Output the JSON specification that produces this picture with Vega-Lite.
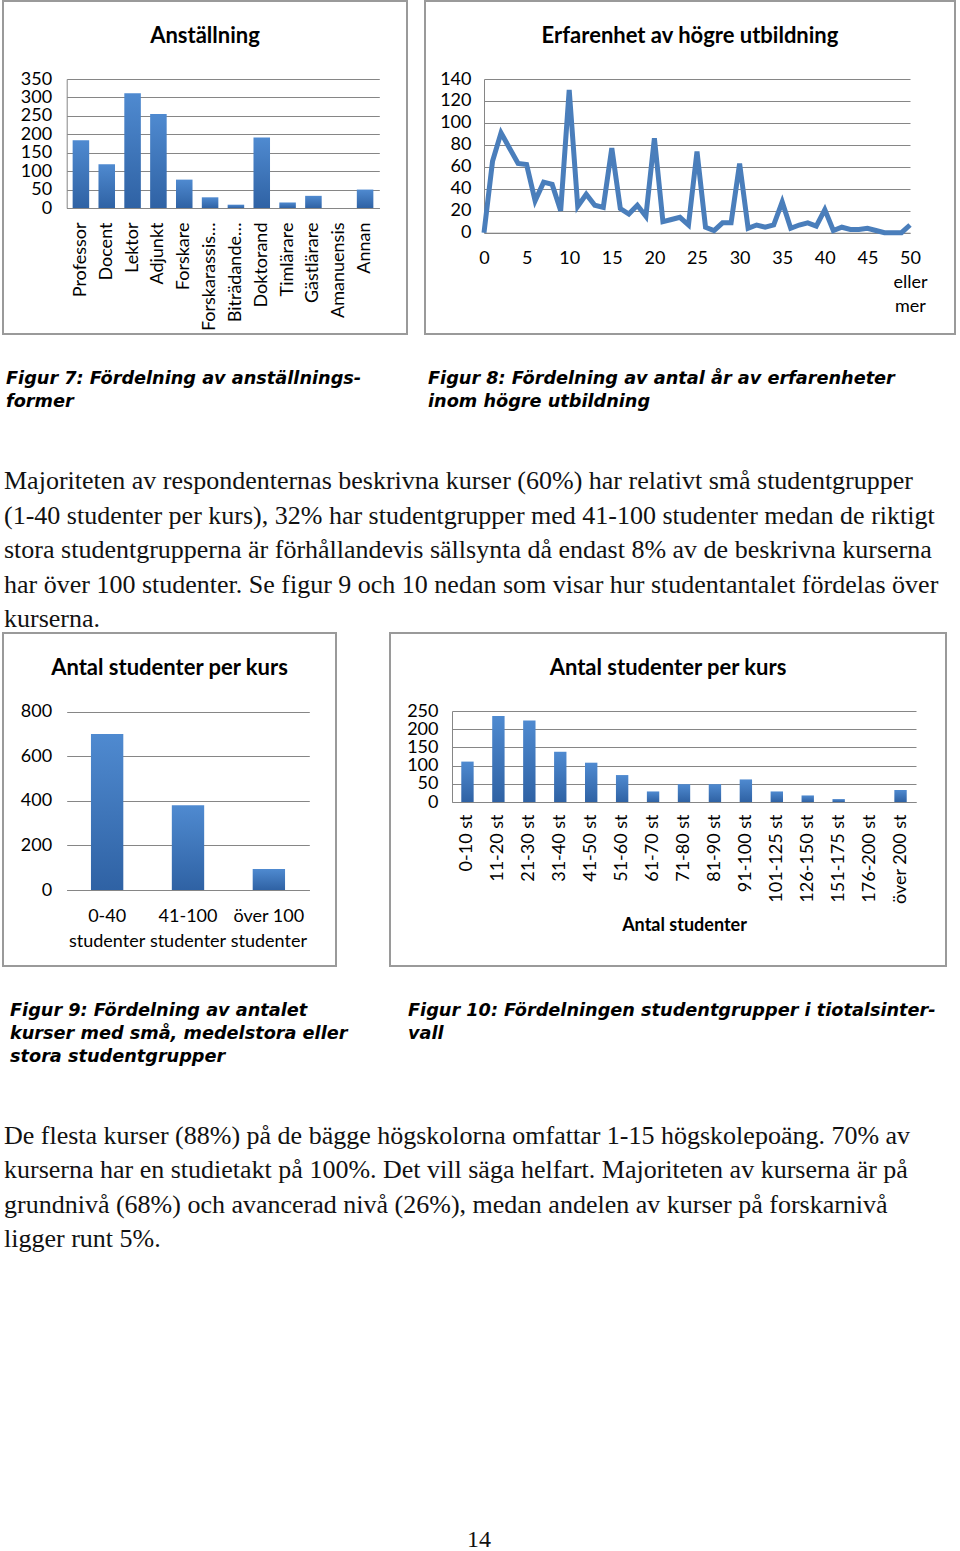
{
  "$schema": "https://vega.github.io/schema/vega-lite/v6.json",
  "background": "white",
  "padding": {"left": 2, "top": 0, "right": 0, "bottom": 0},
  "spacing": 0,
  "config": {
    "view": {"stroke": "#9a9a9a", "strokeWidth": 2},
    "font": "Lato",
    "axis": {
      "labelFont": "Lato", "labelFontSize": 18, "labelColor": "#000",
      "gridColor": "#868686", "gridWidth": 1, "domainColor": "#868686", "domainWidth": 1,
      "ticks": false, "tickSize": 0, "titleFont": "Lato", "titleFontSize": 18, "titleFontWeight": "bold", "titleColor": "#000",
      "labelFlush": false, "labelOverlap": false
    }
  },
  "vconcat": [
    {
      "hconcat": [
        {
          "width": 404, "height": 333,
          "title": {"text": "Anställning", "orient": "bottom", "anchor": "middle", "frame": "group", "offset": -308, "font": "Lato", "fontSize": 22, "fontWeight": "bold", "color": "#000"},
          "data": {"values": [
            {"kategori": "Professor", "antal": 184},
            {"kategori": "Docent", "antal": 119},
            {"kategori": "Lektor", "antal": 311},
            {"kategori": "Adjunkt", "antal": 255},
            {"kategori": "Forskare", "antal": 77},
            {"kategori": "Forskarassis…", "antal": 29},
            {"kategori": "Biträdande…", "antal": 9},
            {"kategori": "Doktorand", "antal": 191},
            {"kategori": "Timlärare", "antal": 15},
            {"kategori": "Gästlärare", "antal": 33},
            {"kategori": "Amanuensis", "antal": 0},
            {"kategori": "Annan", "antal": 50}
          ]},
          "mark": {"type": "bar", "fill": {"gradient": "linear", "x1": 0, "y1": 0, "x2": 0, "y2": 1, "stops": [{"offset": 0, "color": "#4f8ad0"}, {"offset": 1, "color": "#2f62a4"}]}},
          "encoding": {
            "x": {"field": "kategori", "type": "nominal", "sort": null,
                  "scale": {"range": [63.7, 376.3], "paddingInner": 0.36, "paddingOuter": 0.23},
                  "axis": {"title": null, "labelAngle": -90, "offset": -126, "labelPadding": 14, "grid": false, "domain": true}},
            "y": {"field": "antal", "type": "quantitative",
                  "scale": {"domain": [0, 350], "range": [207, 78], "nice": false},
                  "axis": {"title": null, "values": [0, 50, 100, 150, 200, 250, 300, 350], "offset": -63.7, "labelPadding": 15, "grid": true, "domain": true}}
          }
        },
        {
          "width": 530, "height": 333,
          "title": {"text": "Erfarenhet av högre utbildning", "orient": "bottom", "anchor": "middle", "frame": "group", "offset": -308, "font": "Lato", "fontSize": 22, "fontWeight": "bold", "color": "#000"},
          "data": {"values": [
            {"ar": 0, "antal": 0}, {"ar": 1, "antal": 65}, {"ar": 2, "antal": 91}, {"ar": 3, "antal": 77}, {"ar": 4, "antal": 63},
            {"ar": 5, "antal": 62}, {"ar": 6, "antal": 29}, {"ar": 7, "antal": 46}, {"ar": 8, "antal": 44}, {"ar": 9, "antal": 20},
            {"ar": 10, "antal": 130}, {"ar": 11, "antal": 24}, {"ar": 12, "antal": 35}, {"ar": 13, "antal": 25}, {"ar": 14, "antal": 23},
            {"ar": 15, "antal": 77}, {"ar": 16, "antal": 22}, {"ar": 17, "antal": 17}, {"ar": 18, "antal": 25}, {"ar": 19, "antal": 15},
            {"ar": 20, "antal": 86}, {"ar": 21, "antal": 10}, {"ar": 22, "antal": 12}, {"ar": 23, "antal": 14}, {"ar": 24, "antal": 7},
            {"ar": 25, "antal": 74}, {"ar": 26, "antal": 5}, {"ar": 27, "antal": 2}, {"ar": 28, "antal": 9}, {"ar": 29, "antal": 9},
            {"ar": 30, "antal": 63}, {"ar": 31, "antal": 4}, {"ar": 32, "antal": 7}, {"ar": 33, "antal": 5}, {"ar": 34, "antal": 7},
            {"ar": 35, "antal": 28}, {"ar": 36, "antal": 4}, {"ar": 37, "antal": 7}, {"ar": 38, "antal": 9}, {"ar": 39, "antal": 6},
            {"ar": 40, "antal": 21}, {"ar": 41, "antal": 2}, {"ar": 42, "antal": 5}, {"ar": 43, "antal": 3}, {"ar": 44, "antal": 3},
            {"ar": 45, "antal": 4}, {"ar": 46, "antal": 2}, {"ar": 47, "antal": 0}, {"ar": 48, "antal": 0}, {"ar": 49, "antal": 0},
            {"ar": 50, "antal": 7}
          ]},
          "mark": {"type": "line", "color": "#4a7ebb", "strokeWidth": 5},
          "encoding": {
            "x": {"field": "ar", "type": "quantitative",
                  "scale": {"domain": [0, 50], "range": [59, 485], "nice": false, "zero": false},
                  "axis": {"title": null, "values": [0, 5, 10, 15, 20, 25, 30, 35, 40, 45, 50], "offset": -101.3, "labelPadding": 17, "grid": false, "domain": true, "labelAngle": 0,
                           "labelExpr": "datum.value == 50 ? ['50', 'eller', 'mer'] : datum.label", "labelLineHeight": 24}},
            "y": {"field": "antal", "type": "quantitative",
                  "scale": {"domain": [0, 140], "range": [231.7, 78], "nice": false},
                  "axis": {"title": null, "values": [0, 20, 40, 60, 80, 100, 120, 140], "offset": -59, "labelPadding": 13, "grid": true, "domain": true}}
          }
        }
      ],
      "spacing": 16
    },
    {
      "hconcat": [
        {
          "width": 405, "height": 100, "view": {"stroke": null},
          "data": {"values": [{}]},
          "mark": {"type": "text", "text": ""},
          "title": {"text": ["Figur 7: Fördelning av anställnings-", "former"], "orient": "bottom", "anchor": "start", "frame": "group", "offset": -65, "dx": 3,
                    "font": "DejaVu Sans", "fontSize": 17.7, "fontWeight": "bold", "fontStyle": "italic", "lineHeight": 23, "color": "#000"}
        },
        {
          "width": 525, "height": 100, "view": {"stroke": null},
          "data": {"values": [{}]},
          "mark": {"type": "text", "text": ""},
          "title": {"text": ["Figur 8: Fördelning av antal år av erfarenheter", "inom högre utbildning"], "orient": "bottom", "anchor": "start", "frame": "group", "offset": -65,
                    "font": "DejaVu Sans", "fontSize": 17.7, "fontWeight": "bold", "fontStyle": "italic", "lineHeight": 23, "color": "#000"}
        }
      ],
      "spacing": 20
    },
    {
      "width": 952, "height": 197, "view": {"stroke": null},
      "data": {"values": [{}]},
      "mark": {"type": "text", "text": ""},
      "title": {"text": [
        "Majoriteten av respondenternas beskrivna kurser (60%) har relativt små studentgrupper",
        "(1-40 studenter per kurs), 32% har studentgrupper med 41-100 studenter medan de riktigt",
        "stora studentgrupperna är förhållandevis sällsynta då endast 8% av de beskrivna kurserna",
        "har över 100 studenter. Se figur 9 och 10 nedan som visar hur studentantalet fördelas över",
        "kurserna."
      ], "orient": "bottom", "anchor": "start", "frame": "group", "offset": -164, "dx": 1,
        "font": "Liberation Serif", "fontSize": 26, "fontWeight": "normal", "lineHeight": 34.5, "color": "#111"}
    },
    {
      "hconcat": [
        {
          "width": 333, "height": 333,
          "title": {"text": "Antal studenter per kurs", "orient": "bottom", "anchor": "middle", "frame": "group", "offset": -308, "font": "Lato", "fontSize": 22, "fontWeight": "bold", "color": "#000"},
          "data": {"values": [
            {"grupp": "0-40 studenter", "antal": 700},
            {"grupp": "41-100 studenter", "antal": 380},
            {"grupp": "över 100 studenter", "antal": 94}
          ]},
          "mark": {"type": "bar", "fill": {"gradient": "linear", "x1": 0, "y1": 0, "x2": 0, "y2": 1, "stops": [{"offset": 0, "color": "#4f8ad0"}, {"offset": 1, "color": "#2f62a4"}]}},
          "encoding": {
            "x": {"field": "grupp", "type": "nominal", "sort": null,
                  "scale": {"range": [63.7, 306.3], "paddingInner": 0.6, "paddingOuter": 0.3},
                  "axis": {"title": null, "labelAngle": 0, "offset": -76, "labelPadding": 17, "grid": false, "domain": true, "labelLineHeight": 25,
                           "labelExpr": "[substring(datum.label, 0, lastindexof(datum.label, ' ')), substring(datum.label, lastindexof(datum.label, ' ') + 1)]"}},
            "y": {"field": "antal", "type": "quantitative",
                  "scale": {"domain": [0, 800], "range": [257, 78.7], "nice": false},
                  "axis": {"title": null, "values": [0, 200, 400, 600, 800], "offset": -63.7, "labelPadding": 15, "grid": true, "domain": false}}
          }
        },
        {
          "width": 556, "height": 333,
          "title": {"text": "Antal studenter per kurs", "orient": "bottom", "anchor": "middle", "frame": "group", "offset": -308, "font": "Lato", "fontSize": 22, "fontWeight": "bold", "color": "#000"},
          "data": {"values": [
            {"intervall": "0-10 st", "antal": 111},
            {"intervall": "11-20 st", "antal": 236},
            {"intervall": "21-30 st", "antal": 224},
            {"intervall": "31-40 st", "antal": 138},
            {"intervall": "41-50 st", "antal": 108},
            {"intervall": "51-60 st", "antal": 74},
            {"intervall": "61-70 st", "antal": 29},
            {"intervall": "71-80 st", "antal": 49},
            {"intervall": "81-90 st", "antal": 49},
            {"intervall": "91-100 st", "antal": 62},
            {"intervall": "101-125 st", "antal": 29},
            {"intervall": "126-150 st", "antal": 18},
            {"intervall": "151-175 st", "antal": 8},
            {"intervall": "176-200 st", "antal": 0},
            {"intervall": "över 200 st", "antal": 33}
          ]},
          "mark": {"type": "bar", "fill": {"gradient": "linear", "x1": 0, "y1": 0, "x2": 0, "y2": 1, "stops": [{"offset": 0, "color": "#4f8ad0"}, {"offset": 1, "color": "#2f62a4"}]}},
          "encoding": {
            "x": {"field": "intervall", "type": "nominal", "sort": null,
                  "scale": {"range": [62, 526], "paddingInner": 0.6, "paddingOuter": 0.3},
                  "axis": {"title": "Antal studenter", "titlePadding": 13, "labelAngle": -90, "offset": -164, "labelPadding": 12, "grid": false, "domain": true}},
            "y": {"field": "antal", "type": "quantitative",
                  "scale": {"domain": [0, 250], "range": [169, 78], "nice": false},
                  "axis": {"title": null, "values": [0, 50, 100, 150, 200, 250], "offset": -62, "labelPadding": 14, "grid": true, "domain": true}}
          }
        }
      ],
      "spacing": 52
    },
    {
      "hconcat": [
        {
          "width": 335, "height": 133, "view": {"stroke": null},
          "data": {"values": [{}]},
          "mark": {"type": "text", "text": ""},
          "title": {"text": ["Figur 9: Fördelning av antalet", "kurser med små, medelstora eller", "stora studentgrupper"], "orient": "bottom", "anchor": "start", "frame": "group", "offset": -98, "dx": 7,
                    "font": "DejaVu Sans", "fontSize": 17.7, "fontWeight": "bold", "fontStyle": "italic", "lineHeight": 23, "color": "#000"}
        },
        {
          "width": 555, "height": 133, "view": {"stroke": null},
          "data": {"values": [{}]},
          "mark": {"type": "text", "text": ""},
          "title": {"text": ["Figur 10: Fördelningen studentgrupper i tiotalsinter-", "vall"], "orient": "bottom", "anchor": "start", "frame": "group", "offset": -98,
                    "font": "DejaVu Sans", "fontSize": 17.7, "fontWeight": "bold", "fontStyle": "italic", "lineHeight": 23, "color": "#000"}
        }
      ],
      "spacing": 60
    },
    {
      "width": 952, "height": 400, "view": {"stroke": null},
      "data": {"values": [{}]},
      "mark": {"type": "text", "text": ""},
      "title": {"text": [
        "De flesta kurser (88%) på de bägge högskolorna omfattar 1-15 högskolepoäng. 70% av",
        "kurserna har en studietakt på 100%. Det vill säga helfart. Majoriteten av kurserna är på",
        "grundnivå (68%) och avancerad nivå (26%), medan  andelen av kurser på forskarnivå",
        "ligger runt 5%."
      ], "orient": "bottom", "anchor": "start", "frame": "group", "offset": -377, "dx": 1,
        "font": "Liberation Serif", "fontSize": 26, "fontWeight": "normal", "lineHeight": 34.4, "color": "#111"}
    },
    {
      "width": 952, "height": 51, "view": {"stroke": null},
      "data": {"values": [{}]},
      "mark": {"type": "text", "text": ""},
      "title": {"text": "14", "orient": "bottom", "anchor": "middle", "frame": "group", "offset": -23,
        "font": "Liberation Serif", "fontSize": 24, "fontWeight": "normal", "color": "#111"}
    }
  ]
}
